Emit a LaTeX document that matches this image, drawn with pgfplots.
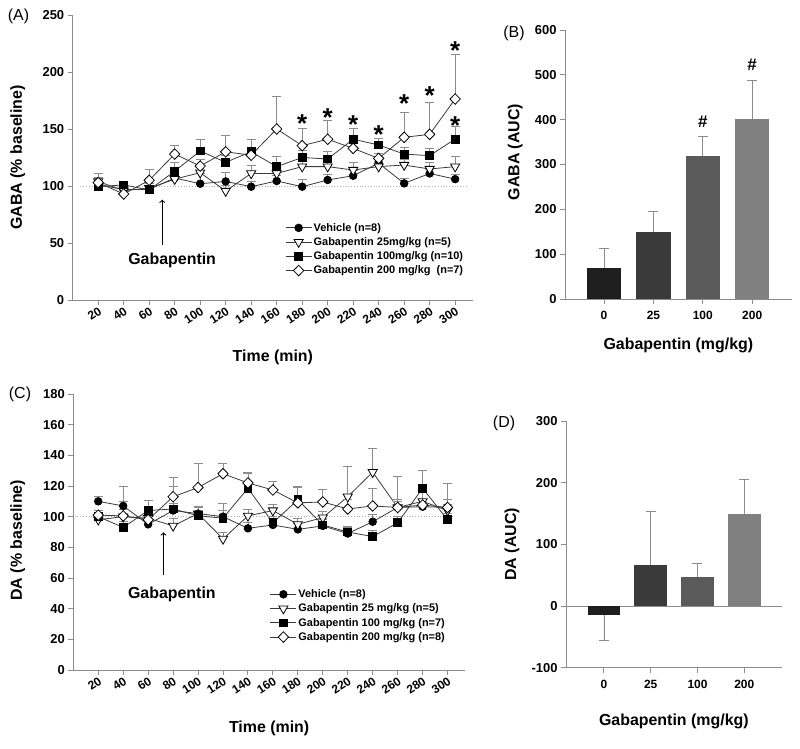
\documentclass[border=0pt]{standalone}
\usepackage{pgfplots}
\pgfplotsset{compat=1.18}
\usepackage{fontspec}
\setmainfont{Liberation Sans}
\newcommand{\fs}[1]{\fontsize{#1}{#1}\selectfont}
\definecolor{axgray}{HTML}{8C8C8C}
\definecolor{lngray}{HTML}{3A3A3A}
\definecolor{barA}{HTML}{1E1E1E}
\definecolor{barB}{HTML}{3A3A3A}
\definecolor{barC}{HTML}{5A5A5A}
\definecolor{barD}{HTML}{808080}
\tikzset{sigstar/.style={font=\bfseries\fs{26}, inner sep=0pt, yshift=-5.5bp}}
\pgfplotsset{
  panel/.style={scale only axis, anchor=south west,
    axis lines=left, axis line style={-, axgray, line width=0.9bp},
    tick style={axgray, line width=0.9bp}, tick align=outside, major tick length=5bp,
    /pgf/number format/assume math mode=true,
    yticklabel style={font=\bfseries\fs{13}},
    xticklabel style={font=\bfseries\fs{12}},
    label style={font=\bfseries\fs{16}},
    clip=false},
  bars/.style={xticklabel style={font=\bfseries\fs{12}, yshift=-4bp}},
  timeaxis/.style={xmin=0, xmax=314, xtick={20,40,...,300},
    xticklabel style={rotate=33, anchor=north east, font=\bfseries\fs{12}, inner sep=1bp},
    legend cell align=left,
    legend image code/.code={\draw[mark repeat=2,mark phase=2,##1] plot coordinates {(0bp,0bp) (13bp,0bp) (26bp,0bp)};}},
  eb/.style={/pgfplots/error bars/y dir=plus, /pgfplots/error bars/y explicit,
    /pgfplots/error bars/error bar style={axgray, line width=0.7bp},
    /pgfplots/error bars/error mark options={rotate=90, mark size=4.5bp, axgray, line width=0.7bp}},
  veh/.style={lngray, line width=0.8bp, mark=*, mark size=3.8bp, mark options={fill=black, draw=black, solid}, eb},
  gtri/.style={lngray, line width=0.8bp, mark=triangle*, mark size=5.3bp, mark options={fill=white, draw=black, rotate=180, solid}, eb},
  gsq/.style={lngray, line width=0.8bp, mark=square*, mark size=3.9bp, mark options={fill=black, draw=black, solid}, eb},
  gdia/.style={lngray, line width=0.8bp, mark=diamond*, mark size=5.3bp, mark options={fill=white, draw=black, xscale=1.3, solid}, eb},
  barerr/.style={/pgfplots/error bars/y explicit,
    /pgfplots/error bars/error bar style={axgray, line width=0.7bp},
    /pgfplots/error bars/error mark options={rotate=90, mark size=5bp, axgray, line width=0.7bp}},
}
\begin{document}
\begin{tikzpicture}
\useasboundingbox (0,0) rectangle (800bp,749bp);
% ---------------- Panel A ----------------
\begin{axis}[panel, timeaxis, at={(72.7bp,449bp)}, width=400.3bp, height=285bp,
  ymin=0, ymax=250, ytick={0,50,...,250},
  xlabel={Time (min)}, ylabel={GABA (\% baseline)},
  xlabel style={at={(axis description cs:0.5,-0.2)}, anchor=center},
  ylabel style={at={(axis description cs:-0.137,0.5)}, anchor=center},
  legend style={draw=none, fill=none, at={(0.523,0.283)}, anchor=north west,
    font=\bfseries\fs{11}, nodes={inner sep=1.6bp}, row sep=1.6bp}]
\draw[dotted, axgray!70, line width=0.8bp] (axis cs:6,100) -- (axis cs:309,100);
\addplot[veh] coordinates {(20,101)+-(0,7) (40,97)+-(0,4) (60,97)+-(0,4) (80,107)+-(0,5) (100,102)+-(0,9) (120,104)+-(0,8) (140,99.4)+-(0,5) (160,104.4)+-(0,5) (180,99.4)+-(0,6) (200,105.3)+-(0,5) (220,109)+-(0,5) (240,120)+-(0,5) (260,102.3)+-(0,4) (280,111)+-(0,4) (300,106)+-(0,4)};
\addlegendentry{Vehicle (n=8)}
\addplot[gtri] coordinates {(20,104)+-(0,4) (40,96)+-(0,3) (60,98)+-(0,4) (80,106)+-(0,5) (100,111.7)+-(0,6) (120,95.6)+-(0,5) (140,111)+-(0,7) (160,111)+-(0,6) (180,117)+-(0,6) (200,117)+-(0,6) (220,114)+-(0,7) (240,117)+-(0,5) (260,118.4)+-(0,5) (280,114.9)+-(0,6) (300,117)+-(0,9)};
\addlegendentry{Gabapentin 25mg/kg (n=5)}
\addplot[gsq] coordinates {(20,99.4)+-(0,5) (40,101)+-(0,3) (60,96.5)+-(0,4) (80,113)+-(0,8) (100,130.7)+-(0,10) (120,120.8)+-(0,6) (140,130)+-(0,11) (160,117)+-(0,9) (180,125)+-(0,6) (200,123.7)+-(0,7) (220,141)+-(0,10) (240,136)+-(0,6) (260,128)+-(0,6) (280,126.6)+-(0,6.5) (300,141.2)+-(0,11)};
\addlegendentry{Gabapentin 100mg/kg (n=10)}
\addplot[gdia] coordinates {(20,103)+-(0,8) (40,93)+-(0,3) (60,105)+-(0,10) (80,128)+-(0,8) (100,117.5)+-(0,6) (120,130)+-(0,14) (140,127)+-(0,4) (160,150)+-(0,29) (180,135.4)+-(0,15) (200,141)+-(0,17) (220,133)+-(0,6) (240,124.2)+-(0,4) (260,142.7)+-(0,22) (280,145.3)+-(0,28) (300,176.3)+-(0,39.5)};
\addlegendentry{Gabapentin 200 mg/kg\ \ (n=7)}
\node[sigstar] at (axis cs:180,160) {*};
\node[sigstar] at (axis cs:200,165) {*};
\node[sigstar] at (axis cs:220,158.6) {*};
\node[sigstar] at (axis cs:240,150) {*};
\node[sigstar] at (axis cs:260,176.9) {*};
\node[sigstar] at (axis cs:280,184) {*};
\node[sigstar] at (axis cs:300,223.7) {*};
\node[sigstar] at (axis cs:300,158) {*};
\draw[->, line width=1.1bp] (axis cs:70.2,48) -- (axis cs:70.2,88);
\node[font=\bfseries\fs{16}] at (axis cs:78,35) {Gabapentin};
\end{axis}
% ---------------- Panel B ----------------
\begin{axis}[panel, bars, at={(565bp,450bp)}, width=226.7bp, height=269bp,
  xmin=-0.79, xmax=3.8, ymin=0, ymax=600, xtick={0,1,2,3}, xticklabels={0,25,100,200},
  ytick={0,100,...,600},
  xlabel={Gabapentin (mg/kg)}, ylabel={GABA (AUC)},
  xlabel style={at={(axis description cs:0.5,-0.171)}, anchor=center},
  ylabel style={at={(axis description cs:-0.22,0.546)}, anchor=center}]
\addplot[ybar, bar width=0.7, bar shift=0pt, fill=barA, draw=none, barerr, /pgfplots/error bars/y dir=plus] coordinates {(0,70)+-(0,43)};
\addplot[ybar, bar width=0.7, bar shift=0pt, fill=barB, draw=none, barerr, /pgfplots/error bars/y dir=plus] coordinates {(1,149)+-(0,46)};
\addplot[ybar, bar width=0.7, bar shift=0pt, fill=barC, draw=none, barerr, /pgfplots/error bars/y dir=plus] coordinates {(2,320)+-(0,42)};
\addplot[ybar, bar width=0.7, bar shift=0pt, fill=barD, draw=none, barerr, /pgfplots/error bars/y dir=plus] coordinates {(3,401)+-(0,87)};
\node[font=\bfseries\fs{17}] at (axis cs:2,395) {\#};
\node[font=\bfseries\fs{17}] at (axis cs:3,522) {\#};
\end{axis}
% ---------------- Panel C ----------------
\begin{axis}[panel, timeaxis, at={(73.3bp,79bp)}, width=391.7bp, height=276bp,
  ymin=0, ymax=180, ytick={0,20,...,180},
  xlabel={Time (min)}, ylabel={DA (\% baseline)},
  xlabel style={at={(axis description cs:0.5,-0.21)}, anchor=center},
  ylabel style={at={(axis description cs:-0.142,0.47)}, anchor=center},
  legend style={draw=none, fill=none, at={(0.494,0.305)}, anchor=north west,
    font=\bfseries\fs{11}, nodes={inner sep=1.6bp}, row sep=1.6bp}]
\draw[dotted, axgray!70, line width=0.8bp] (axis cs:1,100) -- (axis cs:305,100);
\addplot[veh] coordinates {(20,110)+-(0,3.5) (40,107)+-(0,12.6) (60,95)+-(0,4) (80,104)+-(0,5) (100,102)+-(0,4) (120,100)+-(0,4) (140,92.4)+-(0,4) (160,94.6)+-(0,4) (180,91.7)+-(0,4) (200,94)+-(0,4) (220,89)+-(0,4) (240,96.7)+-(0,5) (260,106)+-(0,5) (280,106.5)+-(0,5) (300,106)+-(0,5)};
\addlegendentry{Vehicle (n=8)}
\addplot[gtri] coordinates {(20,98)+-(0,4) (40,100)+-(0,10) (60,99)+-(0,4) (80,94)+-(0,5) (100,102)+-(0,4) (120,85.5)+-(0,4) (140,100.5)+-(0,4) (160,104)+-(0,4) (180,95)+-(0,4) (200,99.4)+-(0,4) (220,113)+-(0,20) (240,129)+-(0,15.6) (260,106)+-(0,4) (280,110)+-(0,6) (300,104)+-(0,4)};
\addlegendentry{Gabapentin 25 mg/kg (n=5)}
\addplot[gsq] coordinates {(20,100)+-(0,4) (40,93)+-(0,4) (60,104)+-(0,6.5) (80,105)+-(0,14.6) (100,100.6)+-(0,6) (120,99)+-(0,10) (140,118.5)+-(0,10) (160,96)+-(0,4) (180,111)+-(0,8.6) (200,94.6)+-(0,4) (220,90)+-(0,4) (240,87)+-(0,4) (260,96)+-(0,4) (280,118.5)+-(0,12) (300,98)+-(0,4)};
\addlegendentry{Gabapentin 100 mg/kg (n=7)}
\addplot[gdia] coordinates {(20,101)+-(0,3) (40,100.5)+-(0,4) (60,98)+-(0,4) (80,113)+-(0,12.4) (100,119)+-(0,16) (120,128)+-(0,7) (140,122)+-(0,7) (160,117.4)+-(0,5.6) (180,109)+-(0,10) (200,109.6)+-(0,8.4) (220,105)+-(0,6) (240,107)+-(0,11.7) (260,106)+-(0,20.5) (280,107.6)+-(0,10) (300,106)+-(0,16)};
\addlegendentry{Gabapentin 200 mg/kg (n=8)}
\draw[->, line width=1.1bp] (axis cs:72.3,62) -- (axis cs:72.3,89.8);
\node[font=\bfseries\fs{16}] at (axis cs:79,49) {Gabapentin};
\end{axis}
% ---------------- Panel D ----------------
\begin{axis}[panel, bars, at={(566bp,81.3bp)}, width=215.7bp, height=246.7bp,
  xmin=-0.81, xmax=3.8, ymin=-100, ymax=300, xtick={0,1,2,3}, xticklabels={0,25,100,200},
  ytick={-100,0,...,300},
  xlabel={Gabapentin (mg/kg)}, ylabel={DA (AUC)},
  xlabel style={at={(axis description cs:0.5,-0.219)}, anchor=center},
  ylabel style={at={(axis description cs:-0.25,0.5)}, anchor=center}]
\draw[axgray, line width=0.9bp] (axis cs:-0.81,0) -- (axis cs:3.8,0);
\addplot[ybar, bar width=0.7, bar shift=0pt, fill=barA, draw=none, barerr, /pgfplots/error bars/y dir=minus] coordinates {(0,-14.6)+-(0,40.4)};
\addplot[ybar, bar width=0.7, bar shift=0pt, fill=barB, draw=none, barerr, /pgfplots/error bars/y dir=plus] coordinates {(1,66.5)+-(0,86.5)};
\addplot[ybar, bar width=0.7, bar shift=0pt, fill=barC, draw=none, barerr, /pgfplots/error bars/y dir=plus] coordinates {(2,47)+-(0,23)};
\addplot[ybar, bar width=0.7, bar shift=0pt, fill=barD, draw=none, barerr, /pgfplots/error bars/y dir=plus] coordinates {(3,149)+-(0,57)};
\end{axis}
% panel letters
\node[font=\fs{16}] at (18.5bp,732.5bp) {(A)};
\node[font=\fs{16}] at (514bp,715.5bp) {(B)};
\node[font=\fs{16}] at (20bp,354.5bp) {(C)};
\node[font=\fs{16}] at (504bp,326bp) {(D)};
\end{tikzpicture}
\end{document}
